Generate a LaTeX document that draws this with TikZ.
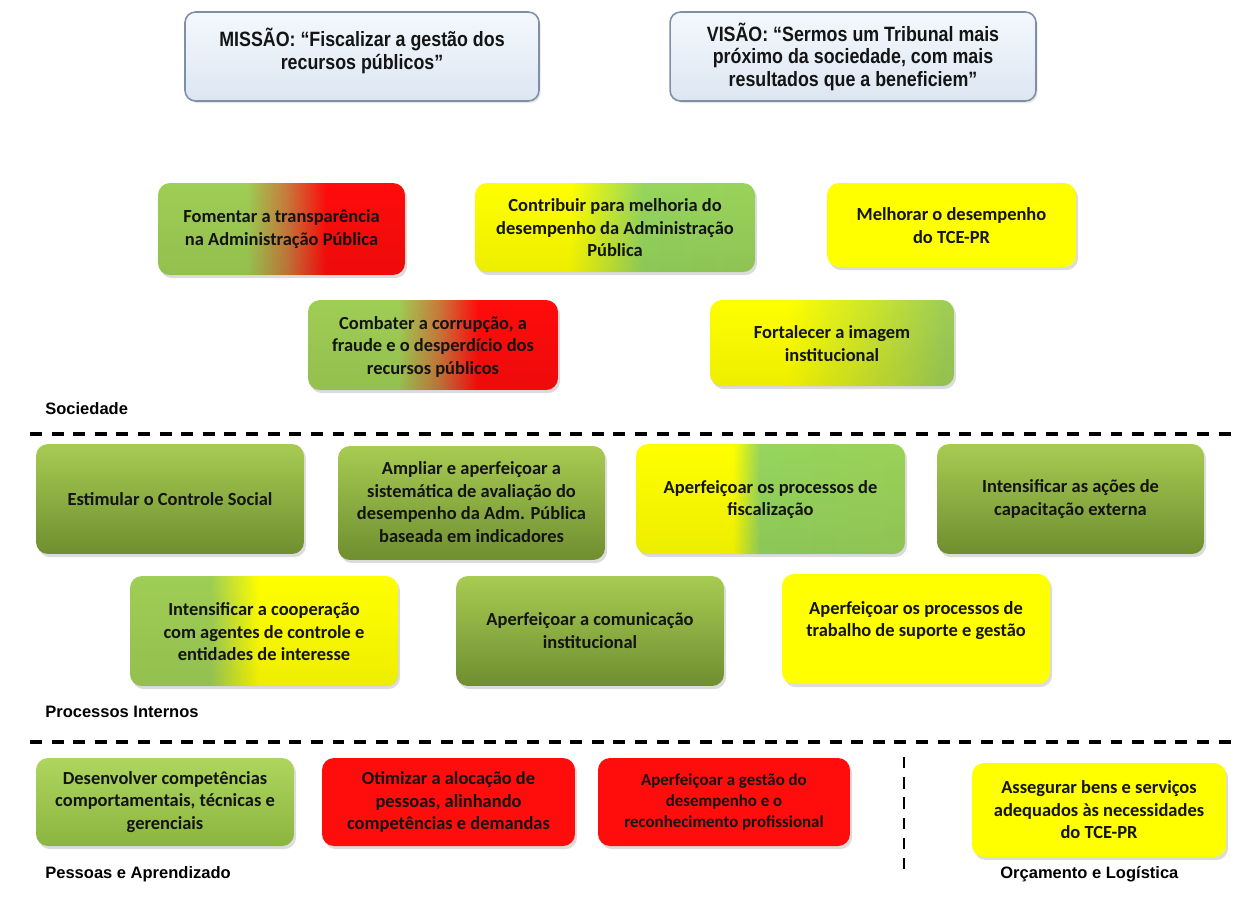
\documentclass[tikz,border=0pt]{standalone}
\usepackage{fontspec}
\setmainfont{Carlito}
\newfontfamily\labfont{Liberation Sans}
\newfontfamily\narrowfont[FakeStretch=0.86]{Liberation Sans}
\usetikzlibrary{shadows,fadings}
\definecolor{lg}{HTML}{9FCE55}
\definecolor{lgb}{HTML}{96D65E}
\definecolor{rd}{HTML}{FF0C0C}
\definecolor{brn}{HTML}{C97B3C}
\definecolor{yl}{HTML}{FFFF00}
\definecolor{gtop}{HTML}{A8CB52}
\definecolor{gbot}{HTML}{6F8E30}
\definecolor{dtop}{HTML}{AED65E}
\definecolor{dbot}{HTML}{8AB540}
\definecolor{mvtop}{HTML}{F4F8FD}
\definecolor{mvbot}{HTML}{DCE6F2}
\definecolor{mvline}{HTML}{7F8FA6}
\definecolor{txt}{HTML}{141414}
\pgfdeclarehorizontalshading{gtor}{100bp}{color(0bp)=(lg); color(43bp)=(lg); color(51bp)=(brn); color(59bp)=(rd); color(100bp)=(rd)}
\pgfdeclarehorizontalshading{ytog}{100bp}{color(0bp)=(yl); color(42bp)=(yl); color(55bp)=(lgb); color(100bp)=(lg)}
\pgfdeclarehorizontalshading{ytogs}{100bp}{color(0bp)=(yl); color(41bp)=(yl); color(73bp)=(lg); color(100bp)=(lg)}
\pgfdeclarehorizontalshading{ytogf}{100bp}{color(0bp)=(yl); color(43bp)=(yl); color(48bp)=(lgb); color(100bp)=(lg)}
\pgfdeclarehorizontalshading{gtoy}{100bp}{color(0bp)=(lg); color(40bp)=(lg); color(49bp)=(yl); color(100bp)=(yl)}
\tikzfading[name=bottomdark, top color=transparent!100, bottom color=transparent!93]
\tikzset{
  obj/.style={rounded corners=6.8pt, align=center, text=txt, inner sep=2pt,
    font=\fontsize{10.5}{12.8}\selectfont\bfseries,
    drop shadow={shadow xshift=1.2pt, shadow yshift=-1.8pt, opacity=0.28}},
  greenbox/.style={obj, top color=gtop, bottom color=gbot},
  redbox/.style={obj, fill=rd},
  yellowbox/.style={obj, fill=yl},
  txtonly/.style={align=center, text=txt, inner sep=0pt,
    font=\fontsize{10.5}{12.8}\selectfont\bfseries},
  mvbox/.style={rounded corners=6pt, draw=mvline, line width=0.9pt,
    top color=mvtop, bottom color=mvbot,
    drop shadow={shadow xshift=1pt, shadow yshift=-1.2pt, opacity=0.2}},
  mvtext/.style={align=center, text=txt, inner sep=0pt,
    font=\narrowfont\fontsize{11.8}{12.8}\selectfont\bfseries},
  shade over/.style={black, path fading=bottomdark, rounded corners=6.8pt},
  lab/.style={anchor=west, inner sep=0pt, font=\labfont\fontsize{9.4}{11}\selectfont\bfseries},
  sep/.style={line width=1.9pt, dash pattern=on 6.8pt off 5.5pt},
  vsep/.style={line width=1.5pt, dash pattern=on 6.5pt off 5pt}
}
\begin{document}
\begin{tikzpicture}[x=0.02cm, y=-0.02cm]
\useasboundingbox (0,0) rectangle (1247,899);
% mission / vision
\node[mvbox, minimum width=7.08cm, minimum height=1.78cm] (mis) at (362,56.5) {};
\node[mvtext] (mist) at (362,51)
  {MISSÃO: “Fiscalizar a gestão dos\\recursos públicos”};
\node[mvbox, minimum width=7.32cm, minimum height=1.78cm] (vis) at (853,56.5) {};
\node[mvtext] (vist) at (853,56.5)
  {VISÃO: “Sermos um Tribunal mais\\próximo da sociedade, com mais\\resultados que a beneficiem”};
% Sociedade
\node[obj, shading=gtor, minimum width=4.94cm, minimum height=1.84cm] (fom) at (281.5,229) {};
\node[obj, shading=ytog, minimum width=5.6cm, minimum height=1.78cm] (con) at (615,227.5) {};
\node[yellowbox, minimum width=4.98cm, minimum height=1.68cm] (mel) at (951.5,225) {};
\node[obj, shading=gtor, minimum width=5.0cm, minimum height=1.8cm] (com) at (433,345) {};
\node[obj, shading=ytogs, minimum width=4.88cm, minimum height=1.72cm] (for) at (832,343) {};
% Processos internos
\node[greenbox, minimum width=5.36cm, minimum height=2.2cm] (est) at (170,499) {};
\node[greenbox, minimum width=5.34cm, minimum height=2.28cm] (amp) at (471.5,503) {};
\node[obj, shading=ytogf, minimum width=5.38cm, minimum height=2.2cm] (fis) at (770.5,499) {};
\node[greenbox, minimum width=5.34cm, minimum height=2.2cm] (cap) at (1070.5,499) {};
\node[obj, shading=gtoy, minimum width=5.36cm, minimum height=2.2cm] (coo) at (264,631) {};
\node[greenbox, minimum width=5.36cm, minimum height=2.2cm] (comu) at (590,631) {};
\node[yellowbox, minimum width=5.36cm, minimum height=2.2cm] (sup) at (916,629) {};
% Pessoas e aprendizado / Orcamento
\node[obj, top color=dtop, bottom color=dbot, minimum width=5.16cm, minimum height=1.76cm] (des) at (165,802) {};
\node[redbox, minimum width=5.06cm, minimum height=1.76cm] (oti) at (448.5,802) {};
\node[redbox, minimum width=5.04cm, minimum height=1.76cm] (ges) at (724,802) {};
\node[yellowbox, minimum width=5.08cm, minimum height=1.88cm] (ass) at (1099,810) {};
% subtle darkening toward the bottom of the horizontally shaded boxes
\foreach \n in {fom,con,com,for,fis,coo}
  \fill[shade over] (\n.south west) rectangle (\n.north east);
% texts
\node[txtonly] (fomt) at (281.5,229) {Fomentar a transparência\\na Administração Pública};
\node[txtonly] (cont) at (615,228) {Contribuir para melhoria do\\desempenho da Administração\\Pública};
\node[txtonly] (melt) at (951.5,225.5) {Melhorar o desempenho\\do TCE-PR};
\node[txtonly] (comt) at (433,346.5) {Combater a corrupção, a\\fraude e o desperdício dos\\recursos públicos};
\node[txtonly] (fort) at (832,343.5) {Fortalecer a imagem\\institucional};
\node[txtonly] (estt) at (170,499) {Estimular o Controle Social};
\node[txtonly] (ampt) at (471.5,502) {Ampliar e aperfeiçoar a\\sistemática de avaliação do\\desempenho da Adm. Pública\\baseada em indicadores};
\node[txtonly] (fist) at (770.5,499.5) {Aperfeiçoar os processos de\\fiscalização};
\node[txtonly] (capt) at (1070.5,499) {Intensificar as ações de\\capacitação externa};
\node[txtonly] (coot) at (264,632) {Intensificar a cooperação\\com agentes de controle e\\entidades de interesse};
\node[txtonly] (comut) at (590,630.5) {Aperfeiçoar a comunicação\\institucional};
\node[txtonly] (supt) at (916,620.5) {Aperfeiçoar os processos de\\trabalho de suporte e gestão};
\node[txtonly] (dest) at (165,802) {Desenvolver competências\\comportamentais, técnicas e\\gerenciais};
\node[txtonly] (otit) at (448.5,802) {Otimizar a alocação de\\pessoas, alinhando\\competências e demandas};
\node[txtonly, font=\fontsize{9.6}{12}\selectfont\bfseries] (gest) at (724,802) {Aperfeiçoar a gestão do\\desempenho e o\\reconhecimento profissional};
\node[txtonly] (asst) at (1099,810) {Assegurar bens e serviços\\adequados às necessidades\\do TCE-PR};
% section labels and separators
\node[lab] (soc) at (45,409) {Sociedade};
\coordinate (s1a) at (30,434);
\coordinate (s1b) at (1240,434);
\draw[sep] (s1a) -- (s1b);
\node[lab] (pin) at (45,712) {Processos Internos};
\coordinate (s2a) at (30,742);
\coordinate (s2b) at (1240,742);
\draw[sep] (s2a) -- (s2b);
\coordinate (v1) at (904,757);
\coordinate (v2) at (904,878);
\draw[vsep] (v1) -- (v2);
\node[lab] (pes) at (45,874) {Pessoas e Aprendizado};
\node[lab] (orc) at (1000,874) {Orçamento e Logística};
\end{tikzpicture}
\end{document}
